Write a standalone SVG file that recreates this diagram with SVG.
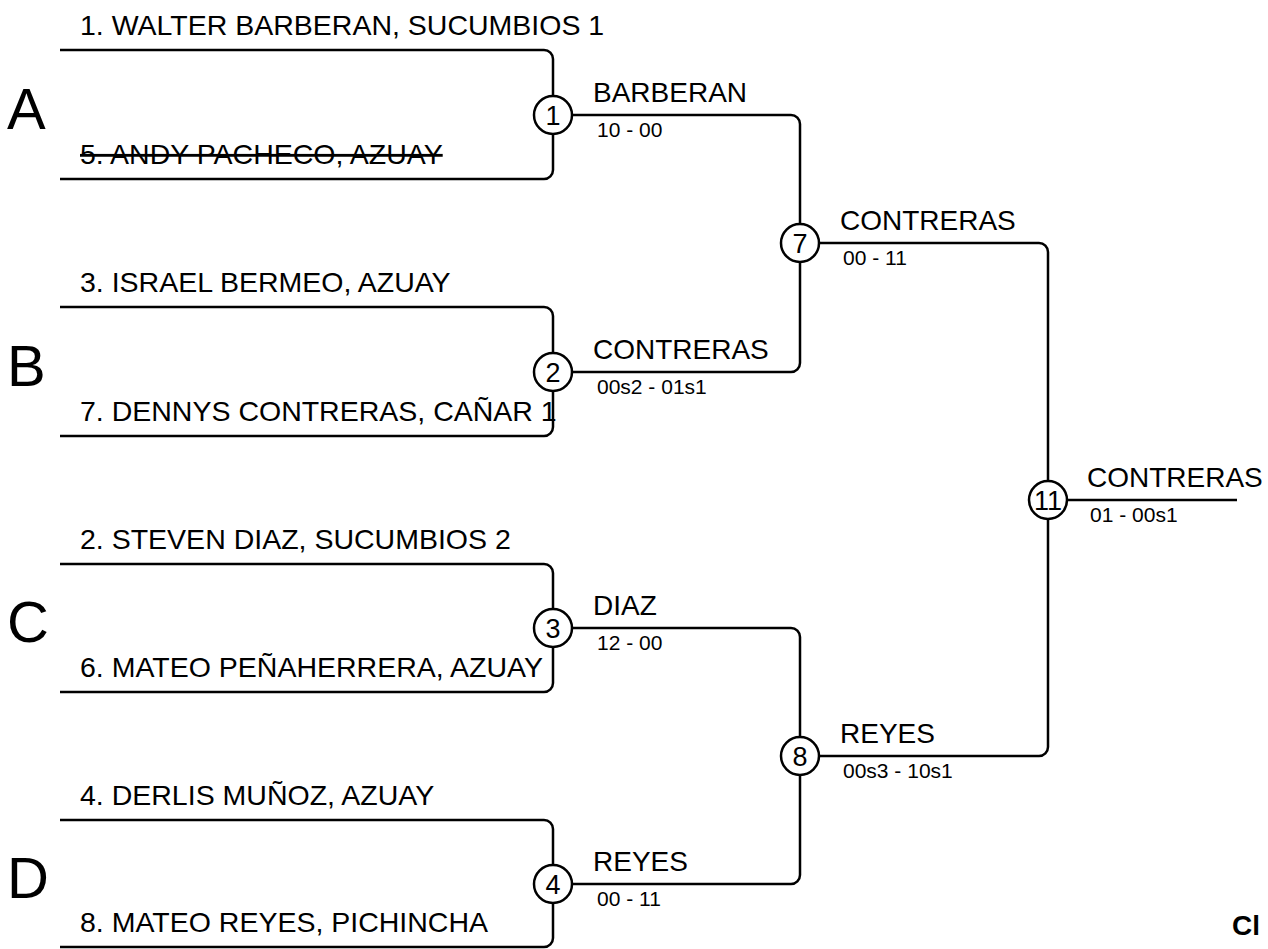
<svg xmlns="http://www.w3.org/2000/svg" width="1268" height="949" viewBox="0 0 1268 949">
<style>
text{font-family:"Liberation Sans",Arial,sans-serif;fill:#000}
.name{font-size:28.5px}
.grp{font-size:58px}
.win{font-size:28px}
.score{font-size:21px}
.num{font-size:27px;text-anchor:middle}
.strike{text-decoration:line-through}
.ln{fill:none;stroke:#000;stroke-width:2.5}
.c{fill:#fff;stroke:#000;stroke-width:2.5}
</style>
<rect width="1268" height="949" fill="#fff"/>
<g id="connectors" class="ln">
<path d="M60,50 H544 a9,9 0 0 1 9,9 V96 M553,134 V170 a9,9 0 0 1 -9,9 H60"/>
<path d="M60,307 H544 a9,9 0 0 1 9,9 V353 M553,391 V427 a9,9 0 0 1 -9,9 H60"/>
<path d="M60,564 H544 a9,9 0 0 1 9,9 V609 M553,647 V683 a9,9 0 0 1 -9,9 H60"/>
<path d="M60,820 H544 a9,9 0 0 1 9,9 V865 M553,903 V938 a9,9 0 0 1 -9,9 H60"/>
<path d="M572,115 H791 a9,9 0 0 1 9,9 V224"/>
<path d="M572,372 H791 a9,9 0 0 0 9,-9 V262"/>
<path d="M572,628 H791 a9,9 0 0 1 9,9 V737"/>
<path d="M572,884 H791 a9,9 0 0 0 9,-9 V775"/>
<path d="M819,243 H1039 a9,9 0 0 1 9,9 V481"/>
<path d="M819,756 H1039 a9,9 0 0 0 9,-9 V519"/>
<path d="M1067,500 H1237"/>
</g>
<g id="group-A">
<text class="grp" x="7" y="129">A</text>
<text class="name" x="80" y="35">1. WALTER BARBERAN, SUCUMBIOS 1</text>
<text class="name strike" x="80" y="164">5. ANDY PACHECO, AZUAY</text>
</g>
<g id="group-B">
<text class="grp" x="7" y="386">B</text>
<text class="name" x="80" y="292">3. ISRAEL BERMEO, AZUAY</text>
<text class="name" x="80" y="421">7. DENNYS CONTRERAS, CAÑAR 1</text>
</g>
<g id="group-C">
<text class="grp" x="7" y="642">C</text>
<text class="name" x="80" y="549">2. STEVEN DIAZ, SUCUMBIOS 2</text>
<text class="name" x="80" y="677">6. MATEO PEÑAHERRERA, AZUAY</text>
</g>
<g id="group-D">
<text class="grp" x="7" y="898">D</text>
<text class="name" x="80" y="805">4. DERLIS MUÑOZ, AZUAY</text>
<text class="name" x="80" y="932">8. MATEO REYES, PICHINCHA</text>
</g>
<g id="match-1">
<circle class="c" cx="553" cy="115" r="19"/>
<text class="num" x="553" y="125">1</text>
<text class="win" x="593" y="102">BARBERAN</text>
<text class="score" x="597" y="137">10 - 00</text>
</g>
<g id="match-2">
<circle class="c" cx="553" cy="372" r="19"/>
<text class="num" x="553" y="382">2</text>
<text class="win" x="593" y="359">CONTRERAS</text>
<text class="score" x="597" y="394">00s2 - 01s1</text>
</g>
<g id="match-3">
<circle class="c" cx="553" cy="628" r="19"/>
<text class="num" x="553" y="638">3</text>
<text class="win" x="593" y="615">DIAZ</text>
<text class="score" x="597" y="650">12 - 00</text>
</g>
<g id="match-4">
<circle class="c" cx="553" cy="884" r="19"/>
<text class="num" x="553" y="894">4</text>
<text class="win" x="593" y="871">REYES</text>
<text class="score" x="597" y="906">00 - 11</text>
</g>
<g id="match-7">
<circle class="c" cx="800" cy="243" r="19"/>
<text class="num" x="800" y="253">7</text>
<text class="win" x="840" y="230">CONTRERAS</text>
<text class="score" x="843" y="265">00 - 11</text>
</g>
<g id="match-8">
<circle class="c" cx="800" cy="756" r="19"/>
<text class="num" x="800" y="766">8</text>
<text class="win" x="840" y="743">REYES</text>
<text class="score" x="843" y="778">00s3 - 10s1</text>
</g>
<g id="match-11">
<circle class="c" cx="1048" cy="500" r="19"/>
<text class="num" x="1048" y="510">11</text>
<text class="win" x="1087" y="487">CONTRERAS</text>
<text class="score" x="1090" y="522">01 - 00s1</text>
</g>
<g id="footer">
<text x="1232" y="935" font-size="28" font-weight="bold">Cl</text>
</g>
</svg>
